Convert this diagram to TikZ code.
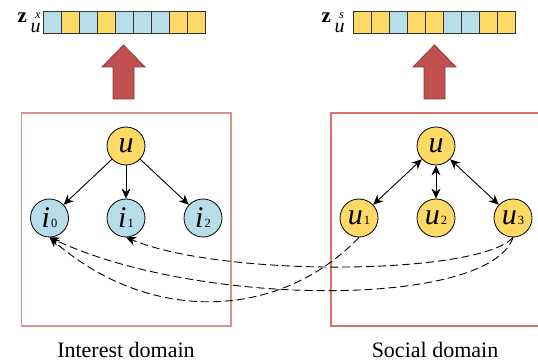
\documentclass[tikz,border=0pt]{standalone}
\usepackage{fontspec}
\setmainfont{Liberation Serif}
\usetikzlibrary{arrows.meta}
\definecolor{cyel}{HTML}{FFD966}
\definecolor{cblue}{HTML}{B7DDE8}
\definecolor{cred}{HTML}{C0504D}
\definecolor{credd}{HTML}{8C3836}
\definecolor{cboxl}{HTML}{D9928E}
\definecolor{cboxr}{HTML}{D6716C}
\tikzset{
  nd/.style={circle,draw=black,line width=0.8pt,minimum size=38pt,inner sep=0pt,font=\fontsize{30}{30}\selectfont\itshape},
  ynd/.style={nd,fill=cyel},
  bnd/.style={nd,fill=cblue},
  treearr/.style={line width=0.9pt,-{Stealth[length=10pt,width=9pt]}},
  btreearr/.style={line width=0.9pt,{Stealth[length=10pt,width=9pt]}-{Stealth[length=10pt,width=9pt]}},
  crossarr/.style={line width=0.9pt,dash pattern=on 8pt off 4pt,-{Stealth[length=10pt,width=9pt]}},
  dombox/.style={line width=1.3pt},
  cellb/.style={draw=black!80,line width=0.8pt,fill=cblue},
  celly/.style={draw=black!80,line width=0.8pt,fill=cyel},
  bigarrow/.style={fill=cred,draw=credd,line width=0.8pt},
  lbl/.style={font=\fontsize{22}{22}\selectfont},
  zlbl/.style={anchor=base west,inner sep=0pt},
}
\newcommand{\sub}[1]{\hspace{1pt}{\fontsize{12.5}{12.5}\selectfont\upshape #1}}
\newcommand{\zlab}[1]{{\fontsize{21}{21}\selectfont\textbf{z}}\hspace{3.5pt}\makebox[0pt][l]{\hspace{4.5pt}\raisebox{4.7pt}{\fontsize{12.5}{12.5}\selectfont\textit{#1}}}\raisebox{-10pt}{\fontsize{20}{20}\selectfont\textit{u}}}
\begin{document}
\begin{tikzpicture}[x=1pt,y=-1pt]
\useasboundingbox (0,0) rectangle (538,363);
% domain boxes
\draw[dombox,draw=cboxl] (21.5,113) rectangle (231,326);
\draw[dombox,draw=cboxr] (331,113) rectangle (540,326);
% labels
\node[lbl] (lint) at (126,350) {Interest domain};
\node[lbl] (lsoc) at (435,350) {Social domain};
% embedding bars
\foreach \c [count=\k from 0] in {b,y,b,y,b,b,b,y,y}{
  \draw[cell\c] (43+\k*18,11) rectangle (61+\k*18,33);
}
\foreach \c [count=\k from 0] in {y,y,b,y,y,b,b,y,y}{
  \draw[cell\c] (353+\k*18,11) rectangle (371+\k*18,33);
}
\node[zlbl] (zx) at (17.5,23) {\zlab{x}};
\node[zlbl] (zs) at (321.5,23) {\zlab{s}};
% big arrows
\draw[bigarrow] (123.5,45) -- (145,67) -- (134,67) -- (134,99) -- (113,99) -- (113,67) -- (102,67) -- cycle;
\draw[bigarrow] (434.5,45) -- (456,67) -- (445,67) -- (445,99) -- (424,99) -- (424,67) -- (413,67) -- cycle;
% interest graph
\node[ynd] (uL) at (126,146) {u};
\node[bnd] (i0) at (49.5,218) {i\sub{0}};
\node[bnd] (i1) at (126,218) {i\sub{1}};
\node[bnd] (i2) at (203,218) {i\sub{2}};
\draw[treearr] (uL) -- (i0);
\draw[treearr] (uL) -- (i1);
\draw[treearr] (uL) -- (i2);
% social graph
\node[ynd] (uR) at (436,146) {u};
\node[ynd] (u1) at (359,218) {u\sub{1}};
\node[ynd] (u2) at (436,218) {u\sub{2}};
\node[ynd] (u3) at (513,218) {u\sub{3}};
\draw[btreearr] (uR) -- (u1);
\draw[btreearr] (uR) -- (u2);
\draw[btreearr] (uR) -- (u3);
% cross-domain links
\draw[crossarr] (u3.south) .. controls (480,275) and (225,278) .. (i1.south);
\draw[crossarr] (u3.south) .. controls (490,308) and (200,308) .. (i0.south);
\draw[crossarr] (u1.south) .. controls (280,320) and (150,325) .. (i0.south);
\end{tikzpicture}
\end{document}
